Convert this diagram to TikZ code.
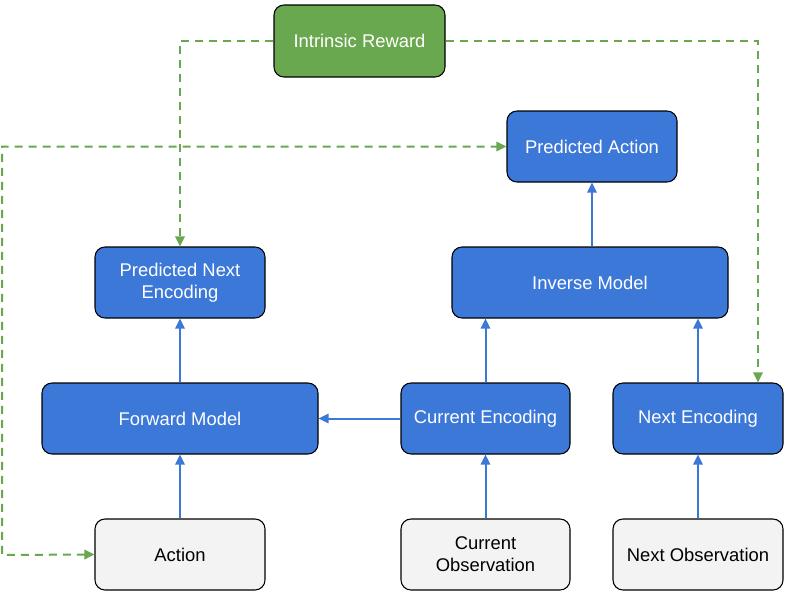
\documentclass[tikz,border=0pt]{standalone}
\usepackage{fontspec}
\setmainfont{Liberation Sans}
\usetikzlibrary{arrows.meta}
\definecolor{boxblue}{HTML}{3C78D8}
\definecolor{boxgreen}{HTML}{6AA84F}
\definecolor{boxgray}{HTML}{F3F3F3}
\definecolor{dashgreen}{HTML}{6AA84F}
\tikzset{
  base/.style={draw=black, line width=0.8pt, rounded corners=7.5pt, align=center, inner sep=0pt, font=\fontsize{13.8}{16.5}\selectfont},
  bluebox/.style={base, fill=boxblue, text=white},
  greenbox/.style={base, fill=boxgreen, text=white},
  graybox/.style={base, fill=boxgray, text=black},
  flow/.style={draw=boxblue, line width=1.5pt, -{Triangle[length=7.5pt,width=7pt]}},
  reward/.style={draw=dashgreen, line width=1.5pt, dash pattern=on 6pt off 4.5pt, -{Triangle[length=7.5pt,width=7pt]}},
}
\begin{document}
\begin{tikzpicture}[x=0.75pt,y=-0.75pt]
\useasboundingbox (0,0) rectangle (800,600);
\node[greenbox, minimum width=128.25pt, minimum height=54pt] (ir) at (359.5,41) {Intrinsic Reward};
\node[bluebox, minimum width=127.5pt, minimum height=53.25pt] (pa) at (592,146.5) {Predicted Action};
\node[bluebox, minimum width=127.5pt, minimum height=53.25pt] (pne) at (180,282.5) {Predicted Next\\Encoding};
\node[bluebox, minimum width=207pt, minimum height=53.25pt] (inv) at (590,282.5) {Inverse Model};
\node[bluebox, minimum width=207pt, minimum height=53.25pt] (fwd) at (180,418.5) {Forward Model};
\node[bluebox, minimum width=126.75pt, minimum height=53.25pt] (ce) at (485.5,418.5) {Current Encoding};
\node[bluebox, minimum width=127.5pt, minimum height=53.25pt] (ne) at (698,418.5) {Next Encoding};
\node[graybox, minimum width=127.5pt, minimum height=53.25pt] (act) at (180,554.5) {Action};
\node[graybox, minimum width=126.75pt, minimum height=53.25pt] (co) at (485.5,554.5) {Current\\Observation};
\node[graybox, minimum width=127.5pt, minimum height=53.25pt] (no) at (698,554.5) {Next Observation};
\draw[flow] (act) -- (fwd);
\draw[flow] (fwd) -- (pne);
\draw[flow] (ce) -- (fwd);
\draw[flow] (co) -- (ce);
\draw[flow] (ce.north) -- (ce.north |- inv.south);
\draw[flow] (no) -- (ne);
\draw[flow] (ne.north) -- (ne.north |- inv.south);
\draw[flow] (inv.north -| pa.south) -- (pa.south);
\coordinate (c1) at (180,41);
\coordinate (c2) at (758,41);
\coordinate (c3) at (2,555);
\coordinate (c4) at (2,146.5);
\draw[reward] (ir.west) -- (c1) -- (pne.north);
\draw[reward] (ir.east) -- (c2) -- (c2 |- ne.north);
\draw[reward, {Triangle[length=7.5pt,width=7pt]}-{Triangle[length=7.5pt,width=7pt]}] (act.west) -- (c3) -- (c4) -- (pa.west);
\end{tikzpicture}
\end{document}
